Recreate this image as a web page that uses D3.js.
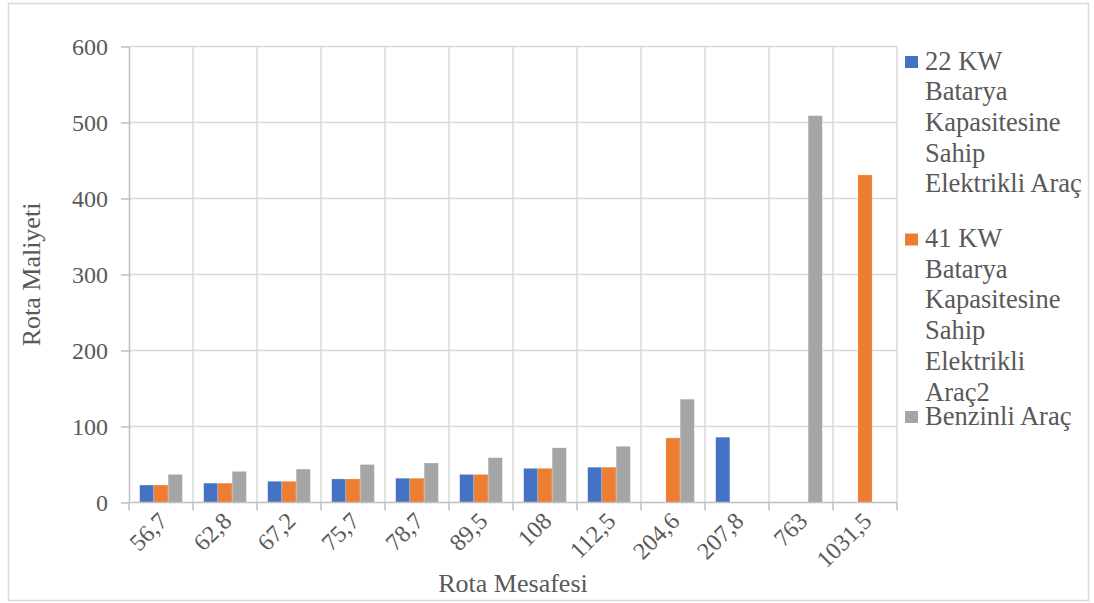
<!DOCTYPE html>
<html>
<head>
<meta charset="utf-8">
<script src="https://cdn.jsdelivr.net/npm/d3@7"></script>
<style>
  html, body { margin: 0; padding: 0; background: #fff; }
  svg { display: block; }
  text { font-family: "Liberation Serif", "Times New Roman", serif; fill: #595959; }
</style>
</head>
<body>
<svg id="chart" width="1094" height="603"></svg>
<script>
// Route distances (category labels)
const categories = ["56,7", "62,8", "67,2", "75,7", "78,7", "89,5", "108", "112,5", "204,6", "207,8", "763", "1031,5"];

// Route cost per vehicle type (0 = no bar)
const ev22 = [23, 25.5, 28, 31, 32, 37, 45, 46.5, 0, 86, 0, 0];
const ev41 = [23, 25.5, 28, 31, 32, 37, 45, 46.5, 85, 0, 0, 431];
const petrol = [37, 41, 44, 50, 52, 59, 72, 74, 136, 0, 509, 0];

const seriesNames = ["22 KW Batarya Kapasitesine Sahip Elektrikli Araç",
                     "41 KW Batarya Kapasitesine Sahip Elektrikli Araç2",
                     "Benzinli Araç"];
const legendLines = [
  ["22 KW", "Batarya", "Kapasitesine", "Sahip", "Elektrikli Araç"],
  ["41 KW", "Batarya", "Kapasitesine", "Sahip", "Elektrikli", "Araç2"],
  ["Benzinli Araç"]
];
const colors = ["#4472C4", "#ED7D31", "#A5A5A5"];
const yTicks = [0, 100, 200, 300, 400, 500, 600];

const seriesValues = [ev22, ev41, petrol];

const svg = d3.select("#chart");
const plot = { left: 129, right: 897, top: 46.5, bottom: 502.5 };
const serif = '"Liberation Serif", "Times New Roman", serif';

// Outer chart border
svg.append("rect")
  .attr("x", 8.5).attr("y", 3.5)
  .attr("width", 1080).attr("height", 597)
  .attr("fill", "#fff").attr("stroke", "#d9d9d9").attr("stroke-width", 1.5);

const x = d3.scaleBand().domain(categories).range([plot.left, plot.right]).padding(0);
const xs = d3.scaleBand().domain(d3.range(3)).range([0, x.bandwidth()])
  .paddingInner(0).paddingOuter(0.75);
const y = d3.scaleLinear().domain([0, 600]).range([plot.bottom, plot.top]);

// Horizontal gridlines
svg.append("g").selectAll("line").data(yTicks.slice(1)).join("line")
  .attr("x1", plot.left).attr("x2", plot.right)
  .attr("y1", d => y(d)).attr("y2", d => y(d))
  .attr("stroke", "#d9d9d9").attr("stroke-width", 1.5);

// Vertical gridlines at category boundaries
const bounds = categories.map(c => x(c)).concat([x(categories[categories.length - 1]) + x.bandwidth()]);
svg.append("g").selectAll("line").data(bounds.slice(1)).join("line")
  .attr("x1", d => d).attr("x2", d => d)
  .attr("y1", plot.top).attr("y2", plot.bottom)
  .attr("stroke", "#d9d9d9").attr("stroke-width", 1.5);

// Bars
const groups = svg.append("g").selectAll("g").data(seriesValues).join("g")
  .attr("fill", (d, i) => colors[i]);
groups.each(function(vals, si) {
  d3.select(this).selectAll("rect")
    .data(vals.map((v, ci) => ({ v, c: categories[ci] })).filter(d => d.v > 0))
    .join("rect")
    .attr("x", d => x(d.c) + xs(si))
    .attr("width", xs.bandwidth())
    .attr("y", d => y(d.v))
    .attr("height", d => y(0) - y(d.v))
    .attr("stroke", "rgba(255,255,255,0.5)").attr("stroke-width", 0.5);
});

// Y axis
const yAxis = svg.append("g")
  .attr("transform", `translate(${plot.left},0)`)
  .call(d3.axisLeft(y).tickValues(yTicks).tickSize(8).tickPadding(13).tickSizeOuter(0));
yAxis.select(".domain").attr("stroke", "#bfbfbf").attr("stroke-width", 1.5);
yAxis.selectAll(".tick line").attr("stroke", "#bfbfbf").attr("stroke-width", 1.5);
yAxis.selectAll(".tick text").attr("font-size", 24).attr("fill", "#595959")
  .style("font-family", serif);

// X axis line and boundary ticks
svg.append("line")
  .attr("x1", plot.left).attr("x2", plot.right)
  .attr("y1", plot.bottom).attr("y2", plot.bottom)
  .attr("stroke", "#bfbfbf").attr("stroke-width", 1.5);
svg.append("g").selectAll("line").data(bounds).join("line")
  .attr("x1", d => d).attr("x2", d => d)
  .attr("y1", plot.bottom).attr("y2", plot.bottom + 8)
  .attr("stroke", "#bfbfbf").attr("stroke-width", 1.5);

// X tick labels, rotated
const xAxis = svg.append("g")
  .attr("transform", `translate(0,${plot.bottom})`)
  .call(d3.axisBottom(x).tickSize(0).tickPadding(0));
xAxis.select(".domain").remove();
xAxis.selectAll(".tick text")
  .attr("font-size", 24).attr("fill", "#595959")
  .style("font-family", serif)
  .attr("text-anchor", "end")
  .attr("transform", "translate(2,14) rotate(-45)")
  .attr("x", 0).attr("y", 0).attr("dy", "0.35em");

// Axis titles
svg.append("text")
  .attr("x", (plot.left + plot.right) / 2).attr("y", 592)
  .attr("text-anchor", "middle").attr("font-size", 26)
  .text("Rota Mesafesi");
svg.append("text")
  .attr("transform", `translate(31,${(plot.top + plot.bottom) / 2}) rotate(-90)`)
  .attr("text-anchor", "middle").attr("dy", "0.35em").attr("font-size", 26)
  .text("Rota Maliyeti");

// Legend
const legend = svg.append("g");
const itemStep = 177.5;
legendLines.forEach((lines, i) => {
  const cy = 62 + i * itemStep;
  const g = legend.append("g").attr("aria-label", seriesNames[i]);
  g.append("rect")
    .attr("x", 905).attr("y", cy - 6).attr("width", 13).attr("height", 12)
    .attr("fill", colors[i]);
  const t = g.append("text").attr("font-size", 26.5).attr("x", 925).attr("y", cy + 7.5);
  lines.forEach((ln, k) => {
    t.append("tspan").attr("x", 925).attr("dy", k === 0 ? 0 : 30.7).text(ln);
  });
});
</script>
</body>
</html>
